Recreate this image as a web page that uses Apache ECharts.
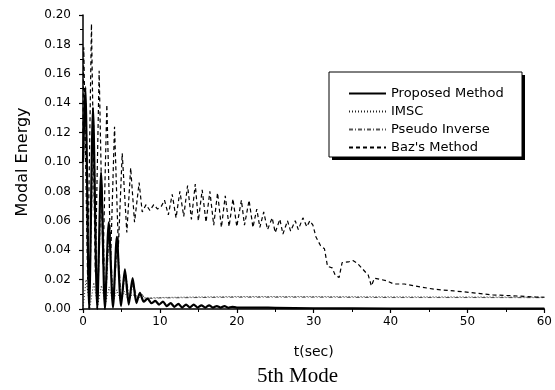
<!DOCTYPE html>
<html>
<head>
<meta charset="utf-8">
<script src="https://cdn.jsdelivr.net/npm/echarts@6/dist/echarts.min.js"></script>
<style>
  html, body { margin: 0; padding: 0; background: #fff; }
  #chart { width: 555px; height: 390px; }
</style>
</head>
<body>
<div id="chart"></div>
<script>
// Proposed Method (solid)
var tProposed = [0, 0.3, 0.8, 1.3, 1.85, 2.35, 2.85, 3.35, 3.9, 4.4, 4.95, 5.45, 5.95, 6.45, 6.95, 7.4, 7.9, 8.4, 8.9, 9.4, 9.9, 10.4, 10.9, 11.4, 11.9, 12.4, 12.9, 13.4, 13.9, 14.4, 14.9, 15.4, 15.9, 16.4, 16.9, 17.4, 17.9, 18.4, 18.9, 19.4, 20, 22, 25, 30, 40, 50, 60];
var eProposed = [0.10, 0.151, 0.0, 0.137, 0.0, 0.093, 0.0, 0.059, 0.001, 0.049, 0.002, 0.027, 0.003, 0.021, 0.004, 0.011, 0.005, 0.007, 0.004, 0.0055, 0.003, 0.005, 0.002, 0.004, 0.0015, 0.0035, 0.001, 0.003, 0.001, 0.003, 0.001, 0.0025, 0.001, 0.0025, 0.001, 0.002, 0.001, 0.002, 0.0008, 0.0015, 0.001, 0.001, 0.0008, 0.0005, 0.0003, 0.0002, 0.0002];

// IMSC (dotted)
var tImsc = [0, 0.4, 0.9, 1.4, 1.9, 2.4, 2.9, 3.4, 3.9, 4.4, 4.9, 5.4, 5.9, 6.4, 7, 8, 10, 15, 20, 30, 40, 50, 60];
var eImsc = [0.0, 0.02, 0.001, 0.018, 0.002, 0.016, 0.003, 0.015, 0.004, 0.013, 0.005, 0.012, 0.006, 0.010, 0.008, 0.0075, 0.0078, 0.0082, 0.0085, 0.0085, 0.0083, 0.0082, 0.008];

// Pseudo Inverse (dash-dot)
var tPseudo = [0, 0.4, 0.85, 1.4, 1.9, 2.45, 2.95, 3.45, 3.95, 4.5, 5.0, 5.55, 6.05, 6.55, 7.05, 7.55, 8, 9, 10, 12, 15, 20, 30, 40, 50, 60];
var ePseudo = [0.09, 0.14, 0.004, 0.125, 0.005, 0.085, 0.006, 0.054, 0.006, 0.044, 0.006, 0.024, 0.007, 0.017, 0.007, 0.011, 0.0075, 0.0072, 0.0075, 0.0076, 0.0078, 0.008, 0.008, 0.0078, 0.0078, 0.0077];

// Baz's Method (dashed)
var tBaz = [0, 0.1, 0.6, 1.1, 1.6, 2.1, 2.6, 3.1, 3.6, 4.1, 4.6, 5.1, 5.7, 6.2, 6.7, 7.3, 7.7, 8.2, 8.7, 9.2, 9.7, 10.2, 10.6, 11.1, 11.6, 12.1, 12.6, 13.1, 13.6, 14.1, 14.6, 15.0, 15.5, 16.0, 16.5, 17.0, 17.5, 18.0, 18.5, 19.0, 19.5, 20.0, 20.6, 21.0, 21.6, 22.1, 22.6, 23.0, 23.5, 24.0, 24.6, 25.0, 25.6, 26.0, 26.6, 27.0, 27.6, 28.0, 28.6, 29.1, 29.5, 29.9, 30.3, 30.9, 31.4, 31.8, 32.4, 32.8, 33.3, 33.7, 34.5, 35.1, 35.7, 36.4, 37.1, 37.5, 37.9, 38.8, 39.6, 40.4, 41.8, 43.9, 45.6, 48.2, 50.8, 53.3, 55.9, 58.8, 60];
var eBaz = [0.12, 0.178, 0.02, 0.194, 0.025, 0.162, 0.03, 0.139, 0.035, 0.124, 0.042, 0.106, 0.052, 0.096, 0.059, 0.086, 0.066, 0.071, 0.067, 0.071, 0.068, 0.070, 0.074, 0.064, 0.078, 0.062, 0.080, 0.063, 0.084, 0.061, 0.085, 0.060, 0.081, 0.059, 0.080, 0.057, 0.079, 0.0555, 0.077, 0.056, 0.075, 0.056, 0.074, 0.057, 0.074, 0.0555, 0.068, 0.0555, 0.066, 0.054, 0.062, 0.052, 0.061, 0.051, 0.060, 0.053, 0.060, 0.054, 0.062, 0.056, 0.060, 0.057, 0.049, 0.043, 0.041, 0.029, 0.028, 0.023, 0.0214, 0.0316, 0.032, 0.033, 0.031, 0.027, 0.023, 0.0157, 0.021, 0.020, 0.019, 0.017, 0.017, 0.015, 0.0135, 0.0123, 0.011, 0.0096, 0.009, 0.0082, 0.008];

var seriesNames = ['Proposed Method', 'IMSC', 'Pseudo Inverse', "Baz's Method"];

function pairs(t, e) {
  return t.map(function (x, i) { return [x, e[i]]; });
}

var font = 'DejaVu Sans';
var myChart = echarts.init(document.getElementById('chart'), null, { renderer: 'canvas' });
var option;

option = {
  animation: false,
  backgroundColor: '#fff',
  title: {
    text: '5th Mode',
    left: 257,
    top: 366,
    padding: 0,
    textStyle: { fontFamily: 'Liberation Serif', fontSize: 21, fontWeight: 'normal', color: '#000' }
  },
  grid: { left: 83, right: 6, top: 15, bottom: 81 },
  // legend frame with a solid drop shadow
  graphic: [
    {
      type: 'rect', z: 20, silent: true,
      shape: { x: 332, y: 75, width: 193, height: 85 },
      style: { fill: '#000' }
    },
    {
      type: 'rect', z: 21, silent: true,
      shape: { x: 329, y: 72, width: 193, height: 85 },
      style: { fill: '#fff', stroke: '#000', lineWidth: 1 }
    }
  ],
  legend: {
    orient: 'vertical',
    left: 329,
    top: 72,
    z: 30,
    padding: [15, 18, 4, 19],
    itemWidth: 37,
    itemHeight: 14,
    itemGap: 5,
    itemStyle: { opacity: 0 },
    textStyle: { fontFamily: font, fontSize: 13, color: '#000' },
    data: seriesNames
  },
  xAxis: {
    type: 'value',
    min: 0,
    max: 60,
    interval: 10,
    name: 't(sec)',
    nameLocation: 'middle',
    nameGap: 36,
    nameTextStyle: { fontFamily: font, fontSize: 14, color: '#000' },
    axisLine: { lineStyle: { color: '#000', width: 1.5 } },
    axisTick: { length: 4, lineStyle: { color: '#000', width: 1.2 } },
    minorTick: { show: true, splitNumber: 2, length: 3, lineStyle: { color: '#000' } },
    axisLabel: { margin: 7, fontFamily: font, fontSize: 12, color: '#000' },
    splitLine: { show: false }
  },
  yAxis: {
    type: 'value',
    min: 0,
    max: 0.2,
    interval: 0.02,
    name: 'Modal Energy',
    nameLocation: 'middle',
    nameGap: 52,
    nameTextStyle: { fontFamily: font, fontSize: 16, color: '#000' },
    axisLine: { show: true, lineStyle: { color: '#000', width: 1.5 } },
    axisTick: { length: 4, lineStyle: { color: '#000', width: 1.2 } },
    minorTick: { show: true, splitNumber: 2, length: 3, lineStyle: { color: '#000' } },
    axisLabel: {
      margin: 12, fontFamily: font, fontSize: 12, color: '#000',
      formatter: function (v) { return v.toFixed(2); }
    },
    splitLine: { show: false }
  },
  series: [
    {
      name: seriesNames[0], type: 'line', symbol: 'none', z: 5,
      smooth: 0.25,
      lineStyle: { color: '#000', width: 2.2, type: 'solid' },
      itemStyle: { color: '#000' },
      data: pairs(tProposed, eProposed)
    },
    {
      name: seriesNames[1], type: 'line', symbol: 'none', z: 3,
      lineStyle: { color: '#222', width: 1, type: [1, 2] },
      itemStyle: { color: '#222' },
      data: pairs(tImsc, eImsc)
    },
    {
      name: seriesNames[2], type: 'line', symbol: 'none', z: 2,
      lineStyle: { color: '#555', width: 1, type: [4, 2, 1, 2] },
      itemStyle: { color: '#555' },
      data: pairs(tPseudo, ePseudo)
    },
    {
      name: seriesNames[3], type: 'line', symbol: 'none', z: 4,
      lineStyle: { color: '#000', width: 1.2, type: [4, 3] },
      itemStyle: { color: '#000' },
      data: pairs(tBaz, eBaz)
    }
  ]
};

option && myChart.setOption(option);
</script>
</body>
</html>
